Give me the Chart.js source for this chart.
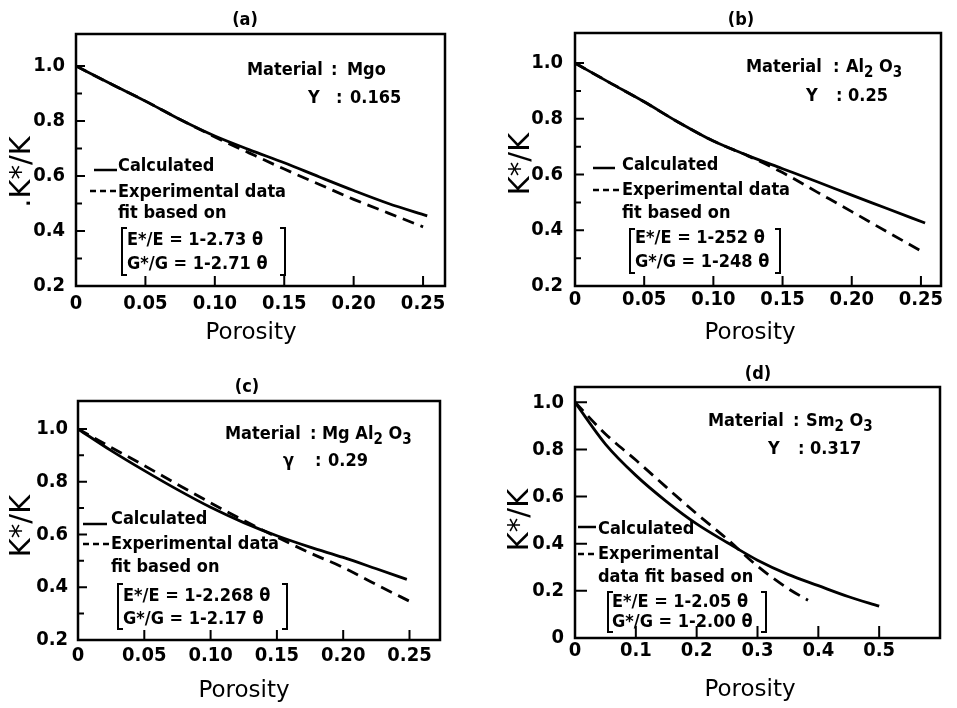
<!DOCTYPE html>
<html>
<head>
<meta charset="utf-8">
<script src="https://cdn.jsdelivr.net/npm/chart.js@4.4.0/dist/chart.umd.min.js"></script>
<style>
  html, body { margin: 0; padding: 0; background: #fff; }
  #wrap { position: relative; width: 957px; height: 708px; background: #fff; }
  canvas { position: absolute; }
</style>
</head>
<body>
<div id="wrap">
  <canvas id="chartA" width="478" height="354" style="left:0;top:0"></canvas>
  <canvas id="chartB" width="479" height="354" style="left:478px;top:0"></canvas>
  <canvas id="chartC" width="478" height="354" style="left:0;top:354px"></canvas>
  <canvas id="chartD" width="479" height="354" style="left:478px;top:354px"></canvas>
</div>
<script>
// ---- data ----
// (a) MgO
const porosityCalcA = [0, 0.025, 0.05, 0.075, 0.1, 0.125, 0.15, 0.175, 0.2, 0.225, 0.253];
const calculatedA   = [1.0, 0.935, 0.872, 0.805, 0.745, 0.695, 0.648, 0.597, 0.547, 0.50, 0.455];
const porosityExpA  = [0, 0.025, 0.05, 0.075, 0.1, 0.125, 0.15, 0.175, 0.2, 0.225, 0.25];
const experimentalA = [1.0, 0.935, 0.872, 0.805, 0.742, 0.683, 0.625, 0.57, 0.515, 0.465, 0.415];

// (b) Al2O3
const porosityCalcB = [0, 0.025, 0.05, 0.075, 0.1, 0.125, 0.15, 0.175, 0.2, 0.225, 0.253];
const calculatedB   = [1.0, 0.93, 0.861, 0.787, 0.72, 0.668, 0.621, 0.574, 0.526, 0.479, 0.426];
const porosityExpB  = [0, 0.025, 0.05, 0.075, 0.1, 0.125, 0.15, 0.175, 0.2, 0.225, 0.25];
const experimentalB = [1.0, 0.93, 0.861, 0.787, 0.72, 0.667, 0.607, 0.537, 0.467, 0.396, 0.326];

// (c) MgAl2O3
const porosityCalcC = [0, 0.025, 0.05, 0.075, 0.1, 0.125, 0.15, 0.175, 0.2, 0.225, 0.248];
const calculatedC   = [1.0, 0.918, 0.842, 0.77, 0.703, 0.645, 0.595, 0.552, 0.513, 0.47, 0.43];
const porosityExpC  = [0, 0.025, 0.05, 0.075, 0.1, 0.125, 0.15, 0.175, 0.2, 0.225, 0.252];
const experimentalC = [1.0, 0.93, 0.861, 0.79, 0.72, 0.653, 0.59, 0.53, 0.475, 0.41, 0.342];

// (d) Sm2O3
const porosityCalcD = [0, 0.05, 0.1, 0.15, 0.2, 0.25, 0.3, 0.35, 0.4, 0.45, 0.5];
const calculatedD   = [1.0, 0.823, 0.69, 0.58, 0.484, 0.405, 0.33, 0.27, 0.222, 0.175, 0.135];
const porosityExpD  = [0, 0.05, 0.1, 0.15, 0.2, 0.25, 0.3, 0.35, 0.383];
const experimentalD = [1.0, 0.866, 0.755, 0.64, 0.527, 0.42, 0.305, 0.21, 0.16];

// tick values
const xTicksSmall = [0, 0.05, 0.10, 0.15, 0.20, 0.25];
const xTicksLarge = [0, 0.1, 0.2, 0.3, 0.4, 0.5];
const yTicksFrom02 = [0.2, 0.4, 0.6, 0.8, 1.0];
const yMinorFrom02 = [0.3, 0.5, 0.7, 0.9];
const yTicksFrom0  = [0, 0.2, 0.4, 0.6, 0.8, 1.0];

const FAMILY = '"DejaVu Sans Condensed", "DejaVu Sans", sans-serif';
const TICK_FAMILY = '"Liberation Sans Narrow", "DejaVu Sans Condensed", sans-serif';
const TITLE_FAMILY = '"DejaVu Sans", sans-serif';

function toPoints(xs, ys) {
  return xs.map((x, i) => ({ x: x, y: ys[i] }));
}

// draws text where "_c" puts c as a subscript
function drawRich(ctx, str, x, y, size) {
  let cx = x;
  for (let i = 0; i < str.length; i++) {
    let ch = str[i];
    if (ch === '_') {
      ch = str[++i];
      ctx.font = `bold ${size - 3}px ${FAMILY}`;
      ctx.fillText(ch, cx, y + 6);
      cx += ctx.measureText(ch).width;
      ctx.font = `bold ${size}px ${FAMILY}`;
    } else {
      ctx.fillText(ch, cx, y);
      cx += ctx.measureText(ch).width;
    }
  }
}

const panels = [
  {
    id: 'chartA', title: '(a)', titleX: 245, titleY: 20,
    calcX: porosityCalcA, calcY: calculatedA, expX: porosityExpA, expY: experimentalA,
    xMax: 0.2658, yMin: 0.2, yMax: 1.116, xTicks: xTicksSmall, xDigits: 2,
    yTicks: yTicksFrom02, yMinor: yMinorFrom02,
    pad: { left: 0, right: 33, top: 34 }, yWidth: 76, xHeight: 68, xPad: 6, yPad: 11,
    yTitle: '.K*/K', yTitleX: 22, yTitleY: 172, xTitleX: 251, xTitleY: 333,
    mat: { y: 70, labelX: 247, colonX: 331, valueX: 347, value: 'Mgo' },
    gam: { y: 98, label: 'Y', labelX: 308, colonX: 336, valueX: 350, value: '0.165' },
    leg: { solid: [94, 117, 170], dash: [90, 117, 191], textX: 118, calcTY: 166, expTY: 192,
           lines: ['Experimental data', 'fit based on'], line2Y: 213,
           bL: 122, bR: 285, bTop: 228, bBot: 275, eqX: 127, eq1Y: 240, eq2Y: 264,
           eq1: 'E*/E = 1-2.73 θ', eq2: 'G*/G = 1-2.71 θ' },
    yTickLen: 9, yMinorLen: 6, xTickLen: 10
  },
  {
    id: 'chartB', title: '(b)', titleX: 263, titleY: 20,
    calcX: porosityCalcB, calcY: calculatedB, expX: porosityExpB, expY: experimentalB,
    xMax: 0.2645, yMin: 0.2, yMax: 1.108, xTicks: xTicksSmall, xDigits: 2,
    yTicks: yTicksFrom02, yMinor: yMinorFrom02,
    pad: { left: 0, right: 16, top: 33 }, yWidth: 97, xHeight: 68, xPad: 2, yPad: 12,
    yTitle: 'K*/K', yTitleX: 43, yTitleY: 164, xTitleX: 272, xTitleY: 333,
    mat: { y: 67, labelX: 268, colonX: 355, valueX: 368, value: 'Al_2 O_3' },
    gam: { y: 96, label: 'Y', labelX: 328, colonX: 358, valueX: 370, value: '0.25' },
    leg: { solid: [115, 137, 168], dash: [115, 143, 190], textX: 144, calcTY: 165, expTY: 190,
           lines: ['Experimental data', 'fit based on'], line2Y: 213,
           bL: 152, bR: 302, bTop: 229, bBot: 273, eqX: 157, eq1Y: 238, eq2Y: 262,
           eq1: 'E*/E = 1-252 θ', eq2: 'G*/G = 1-248 θ' },
    yTickLen: 9, yMinorLen: 6, xTickLen: 10
  },
  {
    id: 'chartC', title: '(c)', titleX: 247, titleY: 33,
    calcX: porosityCalcC, calcY: calculatedC, expX: porosityExpC, expY: experimentalC,
    xMax: 0.273, yMin: 0.2, yMax: 1.106, xTicks: xTicksSmall, xDigits: 2,
    yTicks: yTicksFrom02, yMinor: yMinorFrom02,
    pad: { left: 0, right: 38, top: 47 }, yWidth: 78, xHeight: 68, xPad: 4, yPad: 10,
    yTitle: 'K*/K', yTitleX: 22, yTitleY: 172, xTitleX: 244, xTitleY: 337,
    mat: { y: 80, labelX: 225, colonX: 310, valueX: 322, value: 'Mg Al_2 O_3' },
    gam: { y: 107, label: 'γ', labelX: 283, colonX: 315, valueX: 328, value: '0.29' },
    leg: { solid: [83, 107, 170], dash: [83, 110, 190], textX: 111, calcTY: 165, expTY: 190,
           lines: ['Experimental data', 'fit based on'], line2Y: 213,
           bL: 118, bR: 287, bTop: 230, bBot: 275, eqX: 123, eq1Y: 242, eq2Y: 265,
           eq1: 'E*/E = 1-2.268 θ', eq2: 'G*/G = 1-2.17 θ' },
    yTickLen: 9, yMinorLen: 6, xTickLen: 10
  },
  {
    id: 'chartD', title: '(d)', titleX: 280, titleY: 20,
    calcX: porosityCalcD, calcY: calculatedD, expX: porosityExpD, expY: experimentalD,
    xMax: 0.600, yMin: 0, yMax: 1.065, xTicks: xTicksLarge, xDigits: 1,
    yTicks: yTicksFrom0, yMinor: [],
    pad: { left: 0, right: 17, top: 33 }, yWidth: 97, xHeight: 70, xPad: 1, yPad: 11,
    yTitle: 'K*/K', yTitleX: 42, yTitleY: 166, xTitleX: 272, xTitleY: 336,
    mat: { y: 67, labelX: 230, colonX: 315, valueX: 328, value: 'Sm_2 O_3' },
    gam: { y: 95, label: 'Y', labelX: 290, colonX: 320, valueX: 332, value: '0.317' },
    leg: { solid: [100, 118, 173], dash: [100, 119, 200], textX: 120, calcTY: 175, expTY: 200,
           lines: ['Experimental', 'data fit based on'], line2Y: 223,
           bL: 130, bR: 288, bTop: 238, bBot: 278, eqX: 134, eq1Y: 248, eq2Y: 268,
           eq1: 'E*/E = 1-2.05 θ', eq2: 'G*/G = 1-2.00 θ' },
    yTickLen: 12, yMinorLen: 0, xTickLen: 12
  }
];

// frame, inward ticks and all annotation text
const decorPlugin = {
  id: 'decor',
  afterDatasetsDraw(chart) {
    const p = chart.options.plugins.decor.panel;
    const ctx = chart.ctx;
    const a = chart.chartArea;
    const xs = chart.scales.x, ys = chart.scales.y;
    ctx.save();
    ctx.strokeStyle = '#000';
    ctx.fillStyle = '#000';
    ctx.lineCap = 'butt';

    // box
    ctx.lineWidth = 2.5;
    ctx.strokeRect(a.left, a.top, a.right - a.left, a.bottom - a.top);

    // inward ticks
    ctx.lineWidth = 2;
    ctx.beginPath();
    p.yTicks.forEach(v => {
      const py = ys.getPixelForValue(v);
      ctx.moveTo(a.left, py); ctx.lineTo(a.left + p.yTickLen, py);
    });
    p.yMinor.forEach(v => {
      const py = ys.getPixelForValue(v);
      ctx.moveTo(a.left, py); ctx.lineTo(a.left + p.yMinorLen, py);
    });
    p.xTicks.forEach(v => {
      if (v === 0) return;
      const px = xs.getPixelForValue(v);
      ctx.moveTo(px, a.bottom); ctx.lineTo(px, a.bottom - p.xTickLen);
    });
    ctx.stroke();

    // panel title
    ctx.textAlign = 'center';
    ctx.textBaseline = 'middle';
    ctx.font = `bold 18px ${FAMILY}`;
    ctx.fillText(p.title, p.titleX, p.titleY);

    // axis titles
    ctx.font = `23px ${TITLE_FAMILY}`;
    ctx.fillText('Porosity', p.xTitleX, p.xTitleY);
    ctx.save();
    ctx.translate(p.yTitleX, p.yTitleY);
    ctx.rotate(-Math.PI / 2);
    ctx.font = `29px ${TITLE_FAMILY}`;
    ctx.fillText(p.yTitle, 0, 0);
    ctx.restore();

    // material / gamma
    ctx.textAlign = 'left';
    ctx.font = `bold 18px ${FAMILY}`;
    ctx.fillText('Material', p.mat.labelX, p.mat.y);
    ctx.fillText(':', p.mat.colonX, p.mat.y);
    drawRich(ctx, p.mat.value, p.mat.valueX, p.mat.y, 18);
    ctx.fillText(p.gam.label, p.gam.labelX, p.gam.y);
    ctx.fillText(':', p.gam.colonX, p.gam.y);
    ctx.fillText(p.gam.value, p.gam.valueX, p.gam.y);

    // legend
    const L = p.leg;
    ctx.lineWidth = 2.5;
    ctx.beginPath();
    ctx.moveTo(L.solid[0], L.solid[2]); ctx.lineTo(L.solid[1], L.solid[2]);
    ctx.stroke();
    ctx.setLineDash([6, 4]);
    ctx.beginPath();
    ctx.moveTo(L.dash[0], L.dash[2]); ctx.lineTo(L.dash[1], L.dash[2]);
    ctx.stroke();
    ctx.setLineDash([]);
    ctx.fillText('Calculated', L.textX, L.calcTY);
    ctx.fillText(L.lines[0], L.textX, L.expTY);
    ctx.fillText(L.lines[1], L.textX, L.line2Y);
    ctx.fillText(L.eq1, L.eqX, L.eq1Y);
    ctx.fillText(L.eq2, L.eqX, L.eq2Y);

    // brackets round the two fit equations
    ctx.lineWidth = 2;
    ctx.beginPath();
    ctx.moveTo(L.bL + 5, L.bTop); ctx.lineTo(L.bL, L.bTop); ctx.lineTo(L.bL, L.bBot); ctx.lineTo(L.bL + 5, L.bBot);
    ctx.moveTo(L.bR - 5, L.bTop); ctx.lineTo(L.bR, L.bTop); ctx.lineTo(L.bR, L.bBot); ctx.lineTo(L.bR - 5, L.bBot);
    ctx.stroke();

    ctx.restore();
  }
};

panels.forEach(p => {
  const tickFont = { family: TICK_FAMILY, size: 20, weight: 'bold' };
  new Chart(document.getElementById(p.id), {
    type: 'scatter',
    data: {
      datasets: [
        {
          label: 'Calculated',
          data: toPoints(p.calcX, p.calcY),
          showLine: true,
          borderColor: '#000',
          borderWidth: 2.8,
          pointRadius: 0,
          cubicInterpolationMode: 'monotone'
        },
        {
          label: 'Experimental data fit',
          data: toPoints(p.expX, p.expY),
          showLine: true,
          borderColor: '#000',
          borderWidth: 2.8,
          borderDash: [12, 7],
          pointRadius: 0,
          cubicInterpolationMode: 'monotone'
        }
      ]
    },
    options: {
      responsive: false,
      animation: false,
      layout: { padding: { left: p.pad.left, right: p.pad.right, top: p.pad.top, bottom: 0 } },
      plugins: {
        legend: { display: false },
        tooltip: { enabled: false },
        decor: { panel: p }
      },
      scales: {
        x: {
          type: 'linear',
          min: 0,
          max: p.xMax,
          grid: { display: false, drawTicks: false },
          border: { display: false },
          ticks: {
            color: '#000',
            font: tickFont,
            padding: p.xPad,
            maxRotation: 0,
            callback: v => (v === 0 ? '0' : v.toFixed(p.xDigits))
          },
          afterBuildTicks: s => { s.ticks = p.xTicks.map(v => ({ value: v })); },
          afterFit: s => { s.height = p.xHeight; }
        },
        y: {
          type: 'linear',
          min: p.yMin,
          max: p.yMax,
          grid: { display: false, drawTicks: false },
          border: { display: false },
          ticks: {
            color: '#000',
            font: tickFont,
            padding: p.yPad,
            callback: v => (v === 0 ? '0' : v.toFixed(1))
          },
          afterBuildTicks: s => { s.ticks = p.yTicks.map(v => ({ value: v })); },
          afterFit: s => { s.width = p.yWidth; }
        }
      }
    },
    plugins: [decorPlugin]
  });
});
</script>
</body>
</html>
